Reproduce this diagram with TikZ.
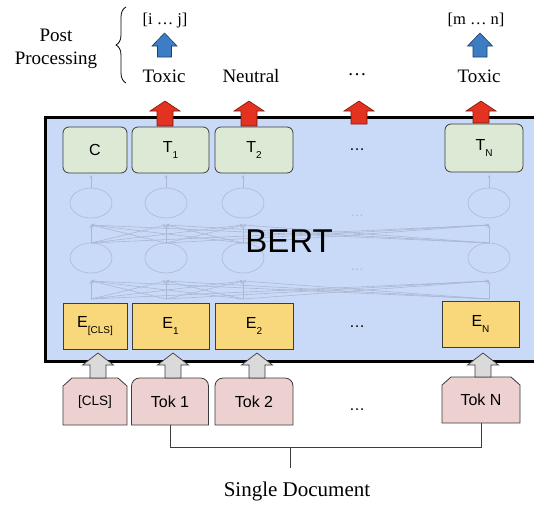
\documentclass[tikz,border=0pt]{standalone}
\usepackage{fontspec}
\setmainfont{Liberation Serif}
\setsansfont{Liberation Sans}
\usetikzlibrary{decorations.pathreplacing,arrows.meta,backgrounds}
\definecolor{bertblue}{HTML}{C9DAF8}
\definecolor{tgreen}{HTML}{DCE9D5}
\definecolor{eyellow}{HTML}{F8D87A}
\definecolor{tokpink}{HTML}{EDD0D0}
\definecolor{redarr}{HTML}{E3321F}
\definecolor{redline}{HTML}{7A1A10}
\definecolor{bluearr}{HTML}{3D7DC6}
\definecolor{blueline}{HTML}{1F3F66}
\definecolor{grayarr}{HTML}{DADADA}
\definecolor{faint}{RGB}{172,184,210}
\definecolor{edge}{HTML}{3C3C3C}
\newcommand\lowsub[1]{\raisebox{-0.4em}{\fontsize{10}{10}\selectfont #1}}
\newcommand\fatup[7]{\filldraw[#1] (#2,#3) -- (#2+#6,#4) -- (#2+#7,#4) -- (#2+#7,#5) -- (#2-#7,#5) -- (#2-#7,#4) -- (#2-#6,#4) -- cycle;}
\begin{document}
\begin{tikzpicture}[x=1pt,y=-1pt,
  boxlbl/.style={font=\sffamily\fontsize{16}{16}\selectfont, inner sep=0pt, outer sep=0pt},
  tbox/.style={boxlbl, draw=edge, line width=0.8pt, fill=tgreen, rounded corners=6pt, minimum height=46pt},
  ebox/.style={boxlbl, draw=edge, line width=0.8pt, fill=eyellow, minimum height=46pt},
  tokbox/.style={boxlbl, minimum height=47pt},
  tokline/.style={draw=edge, line width=0.8pt, fill=tokpink},
  serif/.style={font=\fontsize{19}{19}\selectfont, inner sep=0pt},
  small serif/.style={font=\fontsize{16.5}{16.5}\selectfont, inner sep=0pt},
  fainttxt/.style={font=\sffamily\fontsize{14}{14}\selectfont, text=faint, inner sep=0pt},
  thin/.style={draw=faint, line width=0.6pt},
  redfat/.style={fill=redarr, draw=redline, line width=0.6pt},
  bluefat/.style={fill=bluearr, draw=blueline, line width=0.6pt},
  grayfat/.style={fill=grayarr, draw=edge, line width=0.7pt},
  conn/.style={draw=edge, line width=0.8pt}
]
\useasboundingbox (0,0) rectangle (534,504);
\clip (0,0) rectangle (534,504);

% BERT box
\filldraw[fill=bertblue, draw=black, line width=3pt] (45,117) rectangle (560,361);

% faint network
\foreach \x in {91,166,243,489} {
  \draw[thin] (\x,203) ellipse [x radius=21pt, y radius=15pt];
  \draw[thin] (\x,258) ellipse [x radius=21pt, y radius=15pt];
  \draw[thin, -{Stealth[length=3pt,width=3pt]}] (\x,188) -- (\x,175);
}
\foreach \a in {91,166,243,489} {
  \foreach \b in {91,166,243,489} {
    \draw[thin, -{Stealth[length=3pt,width=3pt]}] (\a,299) -- (\b,281);
    \draw[thin, -{Stealth[length=3pt,width=3pt]}] (\a,243) -- (\b,225);
  }
}
\node[fainttxt] (fd1) at (357,216) {…};
\node[fainttxt] (fd2) at (357,270) {…};
\node[font=\sffamily\fontsize{33}{33}\selectfont, inner sep=0pt] (bert) at (289,241.5) {BERT};

% output boxes
\node[tbox, minimum width=64pt] (c) at (95,150) {C};
\node[tbox, minimum width=77pt] (t1) at (170.5,150) {T\lowsub{1}};
\node[tbox, minimum width=78pt] (t2) at (254,150) {T\lowsub{2}};
\node[boxlbl] (tdots) at (357,150) {…};
\node[tbox, minimum width=78pt, minimum height=48pt] (tn) at (484,148) {T\lowsub{N}};

% embedding boxes
\node[ebox, minimum width=64pt] (ecls) at (95,326) {E\lowsub{[CLS]}};
\node[ebox, minimum width=77pt] (e1) at (170.5,326) {E\lowsub{1}};
\node[ebox, minimum width=78pt] (e2) at (254,326) {E\lowsub{2}};
\node[boxlbl] (edots) at (357,327) {…};
\node[ebox, minimum width=77pt] (en) at (480.5,324) {E\lowsub{N}};

% token boxes
\node[tokbox, minimum width=64pt, font=\sffamily\fontsize{13.5}{13.5}\selectfont] (tok0) at (95,401.5) {[CLS]};
\node[tokbox, minimum width=77pt] (tok1) at (170,401.5) {Tok 1};
\node[tokbox, minimum width=78pt] (tok2) at (254,401.5) {Tok 2};
\node[boxlbl] (tokdots) at (357,410) {…};
\node[tokbox, minimum width=78pt, minimum height=46pt] (tokn) at (481,400) {Tok N};
\begin{scope}[on background layer]
  \path[tokline] (tok0.south west) -- ([yshift=-8pt]tok0.north west) -- ([xshift=9pt]tok0.north west) -- ([xshift=-9pt]tok0.north east) -- ([yshift=-8pt]tok0.north east) -- (tok0.south east) -- cycle;
  \path[tokline] (tokn.south west) -- ([yshift=-8pt]tokn.north west) -- ([xshift=9pt]tokn.north west) -- ([xshift=-9pt]tokn.north east) -- ([yshift=-8pt]tokn.north east) -- (tokn.south east) -- cycle;
  \foreach \t in {tok1,tok2} {
    \path[tokline] (\t.south west) -- ([yshift=-8pt]\t.north west) to[out=90,in=180] ([xshift=8pt]\t.north west) -- ([xshift=-8pt]\t.north east) to[out=0,in=90] ([yshift=-8pt]\t.north east) -- (\t.south east) -- cycle;
  }
\end{scope}

% gray arrows tokens -> embeddings
\fatup{grayfat}{98}{353}{365}{378}{15.5}{8}
\fatup{grayfat}{173}{353}{365}{378}{15.5}{8}
\fatup{grayfat}{257}{353}{365}{378}{15.5}{8}
\fatup{grayfat}{483}{353}{365}{377}{15.5}{8}

% red arrows
\fatup{redfat}{165}{101}{111}{126}{15}{8}
\fatup{redfat}{249}{101}{111}{126}{15}{8}
\fatup{redfat}{359}{101}{111}{124}{15}{8}
\fatup{redfat}{481}{101}{111}{123}{15}{8}

% labels
\node[serif, anchor=base] (lab1) at (164,82) {Toxic};
\node[serif, anchor=base] (lab2) at (251,82) {Neutral};
\node[serif] (lab3) at (357,75) {…};
\node[serif, anchor=base] (labn) at (479,82) {Toxic};
\node[small serif, anchor=base] (span1) at (165,24) {[i … j]};
\node[small serif, anchor=base] (spann) at (476,24) {[m … n]};
\fatup{bluefat}{164.5}{33}{46}{57}{12.5}{7}
\fatup{bluefat}{480}{33}{46}{57}{12.5}{7}

% post processing brace
\node[serif, anchor=base] (post) at (56,41) {Post};
\node[serif, anchor=base] (proc) at (56,64) {Processing};
\draw[line width=0.8pt, decorate, decoration={brace, amplitude=10pt, aspect=0.5}] (126,83) -- (126,7);

% single document bracket
\coordinate (join) at (290,447);
\draw[conn] (tok1.south) |- (join) -| (tokn.south);
\draw[conn] (join) -- ++(0,21);
\node[font=\fontsize{21}{21}\selectfont, inner sep=0pt, anchor=base] (doc) at (297,496) {Single Document};
\end{tikzpicture}
\end{document}
